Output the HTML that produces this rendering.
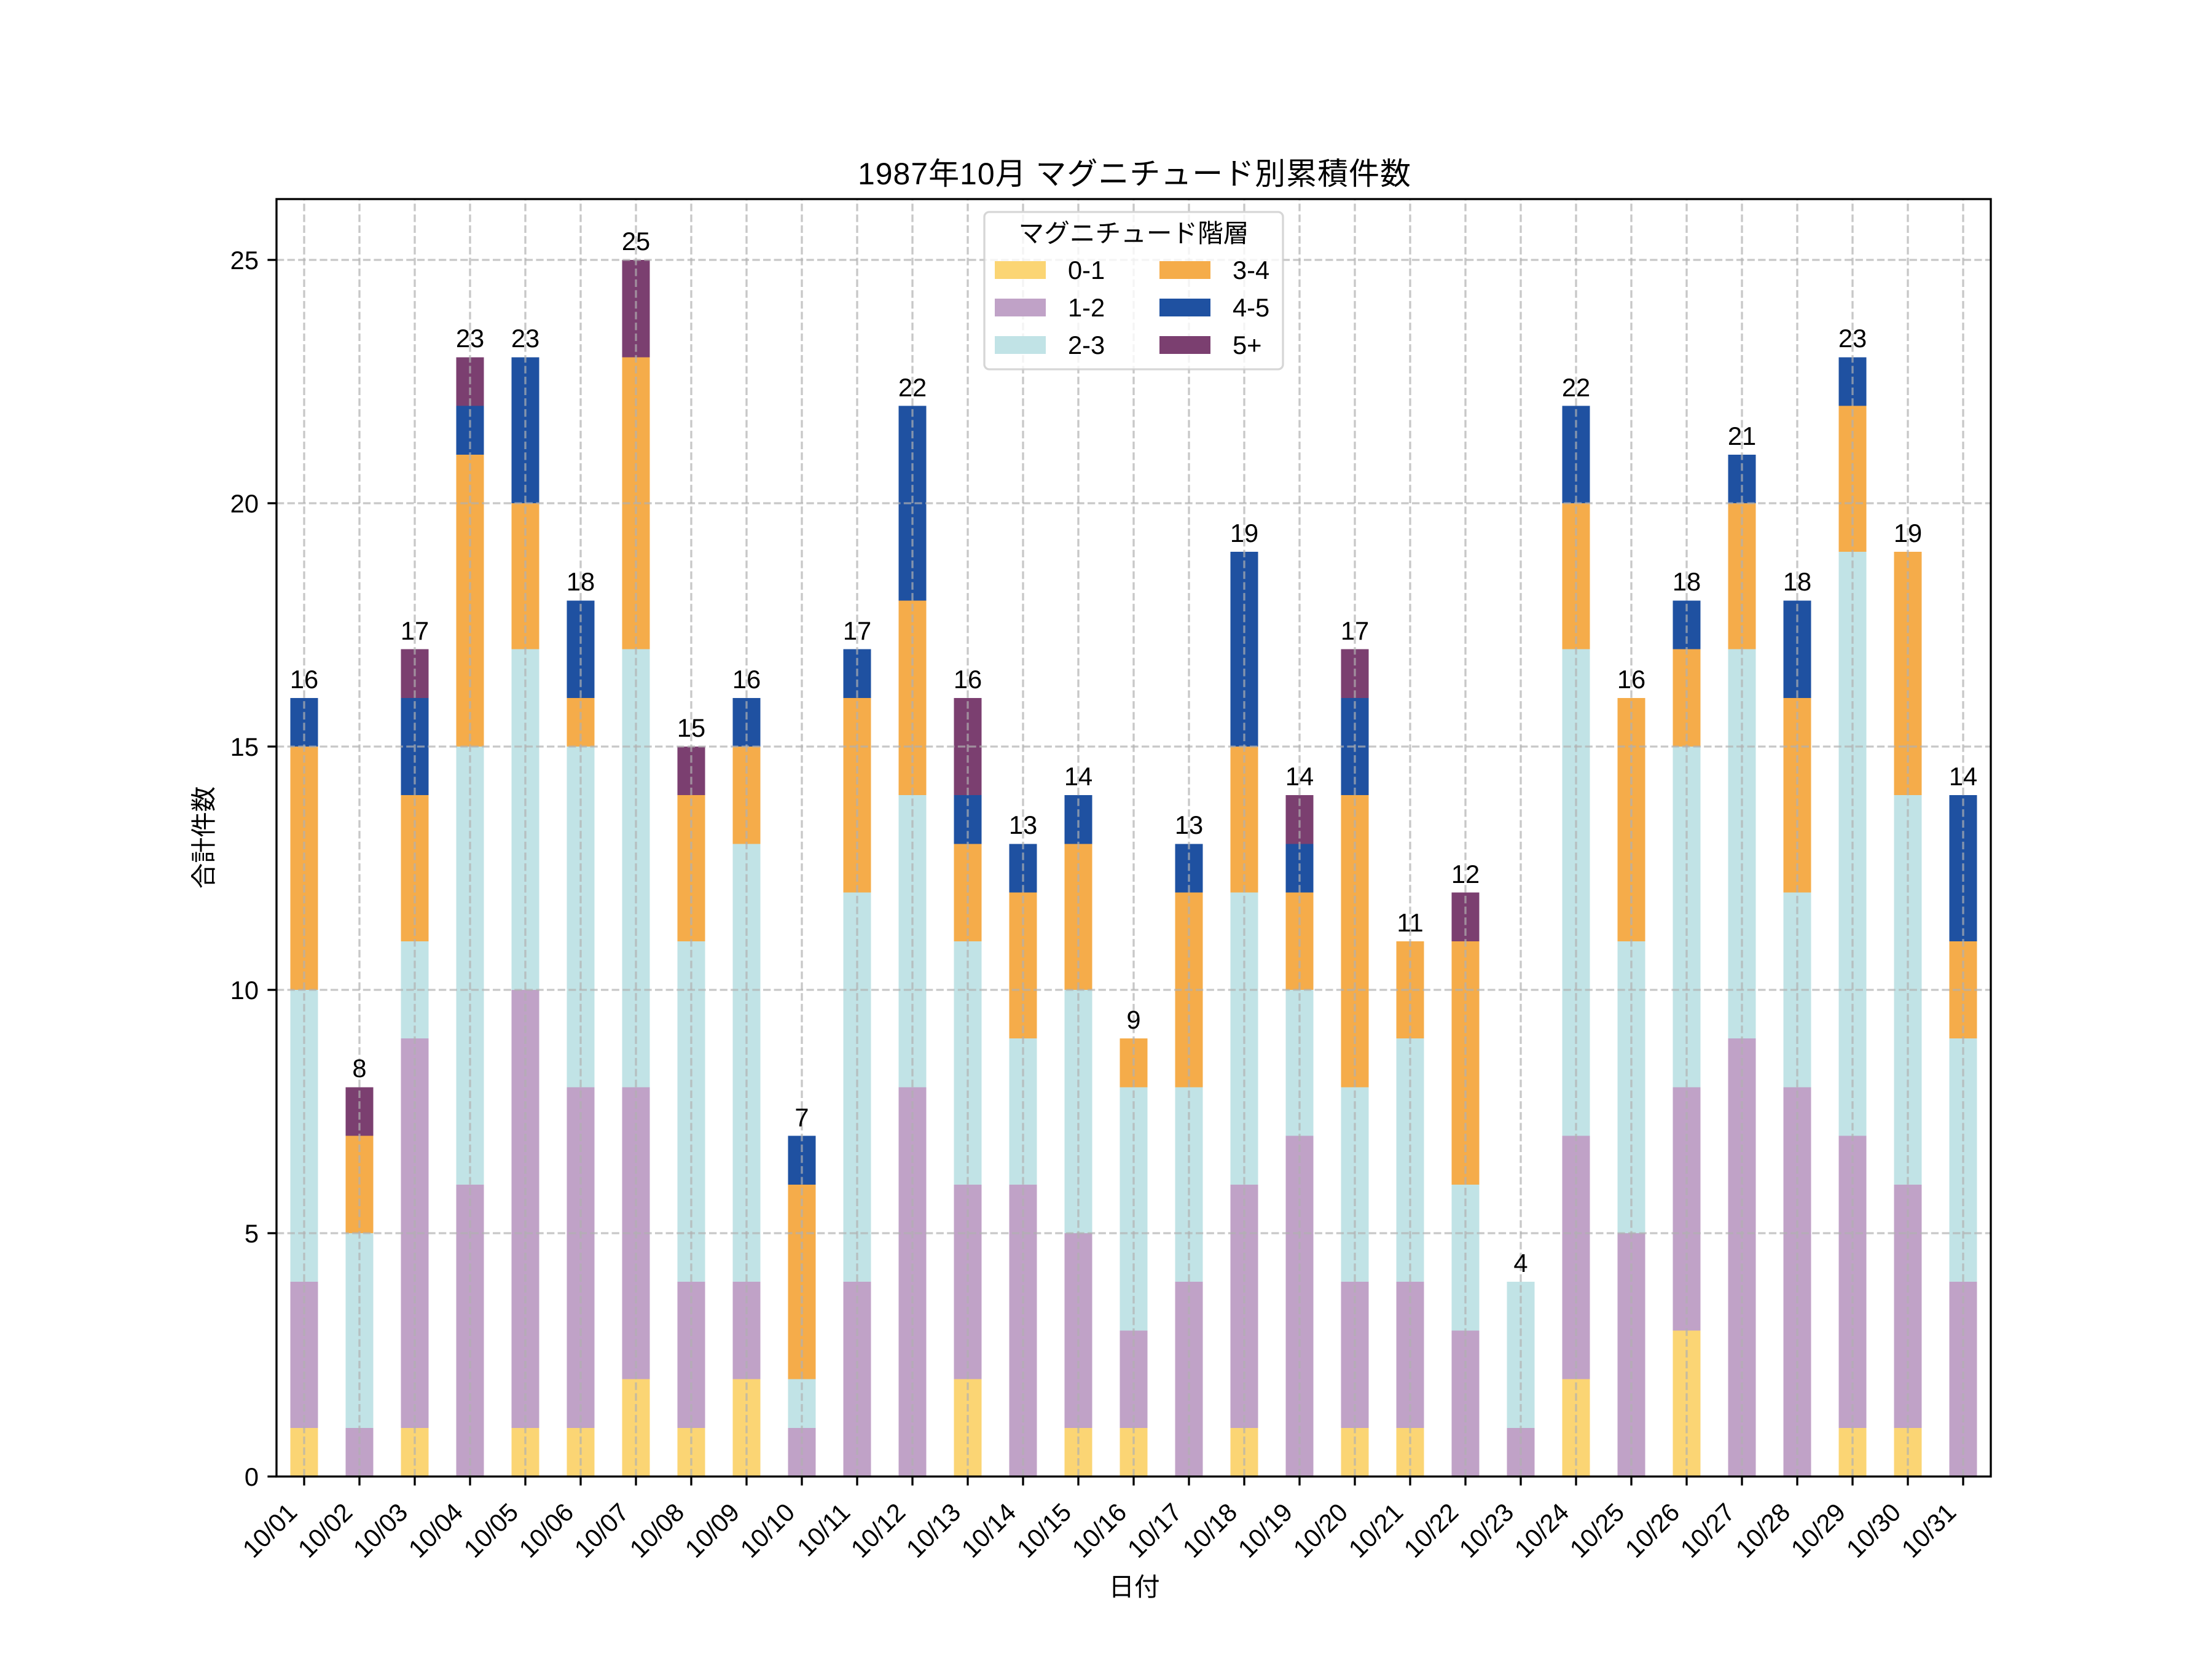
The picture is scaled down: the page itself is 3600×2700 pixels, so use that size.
<!DOCTYPE html>
<html><head><meta charset="utf-8"><style>
html,body{margin:0;padding:0;background:#fff;}
svg{display:block;}
text{font-family:"Liberation Sans","Noto Sans CJK JP",sans-serif;fill:#000;}
</style></head><body>
<svg width="3600" height="2700" viewBox="0 0 3600 2700" xmlns="http://www.w3.org/2000/svg">
<rect x="0" y="0" width="3600" height="2700" fill="#fff"/>
<g transform="translate(450,2403) scale(90,-79.2)" shape-rendering="crispEdges">
<g fill="#fbd574">
<rect x="0.25" y="0" width="0.5" height="1"/><rect x="2.25" y="0" width="0.5" height="1"/><rect x="4.25" y="0" width="0.5" height="1"/><rect x="5.25" y="0" width="0.5" height="1"/><rect x="6.25" y="0" width="0.5" height="2"/><rect x="7.25" y="0" width="0.5" height="1"/><rect x="8.25" y="0" width="0.5" height="2"/><rect x="12.25" y="0" width="0.5" height="2"/><rect x="14.25" y="0" width="0.5" height="1"/><rect x="15.25" y="0" width="0.5" height="1"/><rect x="17.25" y="0" width="0.5" height="1"/><rect x="19.25" y="0" width="0.5" height="1"/><rect x="20.25" y="0" width="0.5" height="1"/><rect x="23.25" y="0" width="0.5" height="2"/><rect x="25.25" y="0" width="0.5" height="3"/><rect x="28.25" y="0" width="0.5" height="1"/><rect x="29.25" y="0" width="0.5" height="1"/>
</g>
<g fill="#c0a2c7">
<rect x="0.25" y="1" width="0.5" height="3"/><rect x="1.25" y="0" width="0.5" height="1"/><rect x="2.25" y="1" width="0.5" height="8"/><rect x="3.25" y="0" width="0.5" height="6"/><rect x="4.25" y="1" width="0.5" height="9"/><rect x="5.25" y="1" width="0.5" height="7"/><rect x="6.25" y="2" width="0.5" height="6"/><rect x="7.25" y="1" width="0.5" height="3"/><rect x="8.25" y="2" width="0.5" height="2"/><rect x="9.25" y="0" width="0.5" height="1"/><rect x="10.25" y="0" width="0.5" height="4"/><rect x="11.25" y="0" width="0.5" height="8"/><rect x="12.25" y="2" width="0.5" height="4"/><rect x="13.25" y="0" width="0.5" height="6"/><rect x="14.25" y="1" width="0.5" height="4"/><rect x="15.25" y="1" width="0.5" height="2"/><rect x="16.25" y="0" width="0.5" height="4"/><rect x="17.25" y="1" width="0.5" height="5"/><rect x="18.25" y="0" width="0.5" height="7"/><rect x="19.25" y="1" width="0.5" height="3"/><rect x="20.25" y="1" width="0.5" height="3"/><rect x="21.25" y="0" width="0.5" height="3"/><rect x="22.25" y="0" width="0.5" height="1"/><rect x="23.25" y="2" width="0.5" height="5"/><rect x="24.25" y="0" width="0.5" height="5"/><rect x="25.25" y="3" width="0.5" height="5"/><rect x="26.25" y="0" width="0.5" height="9"/><rect x="27.25" y="0" width="0.5" height="8"/><rect x="28.25" y="1" width="0.5" height="6"/><rect x="29.25" y="1" width="0.5" height="5"/><rect x="30.25" y="0" width="0.5" height="4"/>
</g>
<g fill="#c1e3e6">
<rect x="0.25" y="4" width="0.5" height="6"/><rect x="1.25" y="1" width="0.5" height="4"/><rect x="2.25" y="9" width="0.5" height="2"/><rect x="3.25" y="6" width="0.5" height="9"/><rect x="4.25" y="10" width="0.5" height="7"/><rect x="5.25" y="8" width="0.5" height="7"/><rect x="6.25" y="8" width="0.5" height="9"/><rect x="7.25" y="4" width="0.5" height="7"/><rect x="8.25" y="4" width="0.5" height="9"/><rect x="9.25" y="1" width="0.5" height="1"/><rect x="10.25" y="4" width="0.5" height="8"/><rect x="11.25" y="8" width="0.5" height="6"/><rect x="12.25" y="6" width="0.5" height="5"/><rect x="13.25" y="6" width="0.5" height="3"/><rect x="14.25" y="5" width="0.5" height="5"/><rect x="15.25" y="3" width="0.5" height="5"/><rect x="16.25" y="4" width="0.5" height="4"/><rect x="17.25" y="6" width="0.5" height="6"/><rect x="18.25" y="7" width="0.5" height="3"/><rect x="19.25" y="4" width="0.5" height="4"/><rect x="20.25" y="4" width="0.5" height="5"/><rect x="21.25" y="3" width="0.5" height="3"/><rect x="22.25" y="1" width="0.5" height="3"/><rect x="23.25" y="7" width="0.5" height="10"/><rect x="24.25" y="5" width="0.5" height="6"/><rect x="25.25" y="8" width="0.5" height="7"/><rect x="26.25" y="9" width="0.5" height="8"/><rect x="27.25" y="8" width="0.5" height="4"/><rect x="28.25" y="7" width="0.5" height="12"/><rect x="29.25" y="6" width="0.5" height="8"/><rect x="30.25" y="4" width="0.5" height="5"/>
</g>
<g fill="#f5ac4a">
<rect x="0.25" y="10" width="0.5" height="5"/><rect x="1.25" y="5" width="0.5" height="2"/><rect x="2.25" y="11" width="0.5" height="3"/><rect x="3.25" y="15" width="0.5" height="6"/><rect x="4.25" y="17" width="0.5" height="3"/><rect x="5.25" y="15" width="0.5" height="1"/><rect x="6.25" y="17" width="0.5" height="6"/><rect x="7.25" y="11" width="0.5" height="3"/><rect x="8.25" y="13" width="0.5" height="2"/><rect x="9.25" y="2" width="0.5" height="4"/><rect x="10.25" y="12" width="0.5" height="4"/><rect x="11.25" y="14" width="0.5" height="4"/><rect x="12.25" y="11" width="0.5" height="2"/><rect x="13.25" y="9" width="0.5" height="3"/><rect x="14.25" y="10" width="0.5" height="3"/><rect x="15.25" y="8" width="0.5" height="1"/><rect x="16.25" y="8" width="0.5" height="4"/><rect x="17.25" y="12" width="0.5" height="3"/><rect x="18.25" y="10" width="0.5" height="2"/><rect x="19.25" y="8" width="0.5" height="6"/><rect x="20.25" y="9" width="0.5" height="2"/><rect x="21.25" y="6" width="0.5" height="5"/><rect x="23.25" y="17" width="0.5" height="3"/><rect x="24.25" y="11" width="0.5" height="5"/><rect x="25.25" y="15" width="0.5" height="2"/><rect x="26.25" y="17" width="0.5" height="3"/><rect x="27.25" y="12" width="0.5" height="4"/><rect x="28.25" y="19" width="0.5" height="3"/><rect x="29.25" y="14" width="0.5" height="5"/><rect x="30.25" y="9" width="0.5" height="2"/>
</g>
<g fill="#1f51a1">
<rect x="0.25" y="15" width="0.5" height="1"/><rect x="2.25" y="14" width="0.5" height="2"/><rect x="3.25" y="21" width="0.5" height="1"/><rect x="4.25" y="20" width="0.5" height="3"/><rect x="5.25" y="16" width="0.5" height="2"/><rect x="8.25" y="15" width="0.5" height="1"/><rect x="9.25" y="6" width="0.5" height="1"/><rect x="10.25" y="16" width="0.5" height="1"/><rect x="11.25" y="18" width="0.5" height="4"/><rect x="12.25" y="13" width="0.5" height="1"/><rect x="13.25" y="12" width="0.5" height="1"/><rect x="14.25" y="13" width="0.5" height="1"/><rect x="16.25" y="12" width="0.5" height="1"/><rect x="17.25" y="15" width="0.5" height="4"/><rect x="18.25" y="12" width="0.5" height="1"/><rect x="19.25" y="14" width="0.5" height="2"/><rect x="23.25" y="20" width="0.5" height="2"/><rect x="25.25" y="17" width="0.5" height="1"/><rect x="26.25" y="20" width="0.5" height="1"/><rect x="27.25" y="16" width="0.5" height="2"/><rect x="28.25" y="22" width="0.5" height="1"/><rect x="30.25" y="11" width="0.5" height="3"/>
</g>
<g fill="#7b3f70">
<rect x="1.25" y="7" width="0.5" height="1"/><rect x="2.25" y="16" width="0.5" height="1"/><rect x="3.25" y="22" width="0.5" height="1"/><rect x="6.25" y="23" width="0.5" height="2"/><rect x="7.25" y="14" width="0.5" height="1"/><rect x="12.25" y="14" width="0.5" height="2"/><rect x="18.25" y="13" width="0.5" height="1"/><rect x="19.25" y="16" width="0.5" height="1"/><rect x="21.25" y="11" width="0.5" height="1"/>
</g>
</g>
<!-- grid -->
<g stroke="#b0b0b0" stroke-opacity="0.7" stroke-width="3.33" stroke-dasharray="12.3,5.3" fill="none">
<line x1="495" y1="2403" x2="495" y2="324"/><line x1="585" y1="2403" x2="585" y2="324"/><line x1="675" y1="2403" x2="675" y2="324"/><line x1="765" y1="2403" x2="765" y2="324"/><line x1="855" y1="2403" x2="855" y2="324"/><line x1="945" y1="2403" x2="945" y2="324"/><line x1="1035" y1="2403" x2="1035" y2="324"/><line x1="1125" y1="2403" x2="1125" y2="324"/><line x1="1215" y1="2403" x2="1215" y2="324"/><line x1="1305" y1="2403" x2="1305" y2="324"/><line x1="1395" y1="2403" x2="1395" y2="324"/><line x1="1485" y1="2403" x2="1485" y2="324"/><line x1="1575" y1="2403" x2="1575" y2="324"/><line x1="1665" y1="2403" x2="1665" y2="324"/><line x1="1755" y1="2403" x2="1755" y2="324"/><line x1="1845" y1="2403" x2="1845" y2="324"/><line x1="1935" y1="2403" x2="1935" y2="324"/><line x1="2025" y1="2403" x2="2025" y2="324"/><line x1="2115" y1="2403" x2="2115" y2="324"/><line x1="2205" y1="2403" x2="2205" y2="324"/><line x1="2295" y1="2403" x2="2295" y2="324"/><line x1="2385" y1="2403" x2="2385" y2="324"/><line x1="2475" y1="2403" x2="2475" y2="324"/><line x1="2565" y1="2403" x2="2565" y2="324"/><line x1="2655" y1="2403" x2="2655" y2="324"/><line x1="2745" y1="2403" x2="2745" y2="324"/><line x1="2835" y1="2403" x2="2835" y2="324"/><line x1="2925" y1="2403" x2="2925" y2="324"/><line x1="3015" y1="2403" x2="3015" y2="324"/><line x1="3105" y1="2403" x2="3105" y2="324"/><line x1="3195" y1="2403" x2="3195" y2="324"/>
<line x1="450" y1="2007" x2="3240" y2="2007"/><line x1="450" y1="1611" x2="3240" y2="1611"/><line x1="450" y1="1215" x2="3240" y2="1215"/><line x1="450" y1="819" x2="3240" y2="819"/><line x1="450" y1="423" x2="3240" y2="423"/>
</g>
<!-- value labels -->
<g font-size="41.67" text-anchor="middle">
<text x="495" y="1120">16</text><text x="585" y="1753">8</text><text x="675" y="1041">17</text><text x="765" y="565">23</text><text x="855" y="565">23</text><text x="945" y="961">18</text><text x="1035" y="407">25</text><text x="1125" y="1199">15</text><text x="1215" y="1120">16</text><text x="1305" y="1833">7</text><text x="1395" y="1041">17</text><text x="1485" y="645">22</text><text x="1575" y="1120">16</text><text x="1665" y="1357">13</text><text x="1755" y="1278">14</text><text x="1845" y="1674">9</text><text x="1935" y="1357">13</text><text x="2025" y="882">19</text><text x="2115" y="1278">14</text><text x="2205" y="1041">17</text><text x="2295" y="1516">11</text><text x="2385" y="1437">12</text><text x="2475" y="2070">4</text><text x="2565" y="645">22</text><text x="2655" y="1120">16</text><text x="2745" y="961">18</text><text x="2835" y="724">21</text><text x="2925" y="961">18</text><text x="3015" y="565">23</text><text x="3105" y="882">19</text><text x="3195" y="1278">14</text>
</g>
<!-- legend -->
<rect x="1602" y="345" width="486" height="256" rx="8" ry="8" fill="#fff" fill-opacity="0.8" stroke="#cccccc" stroke-opacity="0.8" stroke-width="3.33"/>
<text x="1845" y="394" font-size="41.67" text-anchor="middle">マグニチュード階層</text>
<rect x="1619" y="425" width="83" height="29" fill="#fbd574"/>
<rect x="1619" y="486" width="83" height="29" fill="#c0a2c7"/>
<rect x="1619" y="547" width="83" height="29" fill="#c1e3e6"/>
<rect x="1887" y="425" width="83" height="29" fill="#f5ac4a"/>
<rect x="1887" y="486" width="83" height="29" fill="#1f51a1"/>
<rect x="1887" y="547" width="83" height="29" fill="#7b3f70"/>
<g font-size="41.67">
<text x="1738" y="454">0-1</text><text x="1738" y="515">1-2</text><text x="1738" y="576">2-3</text>
<text x="2006" y="454">3-4</text><text x="2006" y="515">4-5</text><text x="2006" y="576">5+</text>
</g>
<!-- spines -->
<rect x="450" y="324" width="2790" height="2079" fill="none" stroke="#000" stroke-width="3.33"/>
<!-- ticks -->
<g stroke="#000" stroke-width="3.33">
<line x1="435.4" y1="2403" x2="450" y2="2403"/><line x1="435.4" y1="2007" x2="450" y2="2007"/><line x1="435.4" y1="1611" x2="450" y2="1611"/><line x1="435.4" y1="1215" x2="450" y2="1215"/><line x1="435.4" y1="819" x2="450" y2="819"/><line x1="435.4" y1="423" x2="450" y2="423"/>
<line x1="495" y1="2403" x2="495" y2="2417.6"/><line x1="585" y1="2403" x2="585" y2="2417.6"/><line x1="675" y1="2403" x2="675" y2="2417.6"/><line x1="765" y1="2403" x2="765" y2="2417.6"/><line x1="855" y1="2403" x2="855" y2="2417.6"/><line x1="945" y1="2403" x2="945" y2="2417.6"/><line x1="1035" y1="2403" x2="1035" y2="2417.6"/><line x1="1125" y1="2403" x2="1125" y2="2417.6"/><line x1="1215" y1="2403" x2="1215" y2="2417.6"/><line x1="1305" y1="2403" x2="1305" y2="2417.6"/><line x1="1395" y1="2403" x2="1395" y2="2417.6"/><line x1="1485" y1="2403" x2="1485" y2="2417.6"/><line x1="1575" y1="2403" x2="1575" y2="2417.6"/><line x1="1665" y1="2403" x2="1665" y2="2417.6"/><line x1="1755" y1="2403" x2="1755" y2="2417.6"/><line x1="1845" y1="2403" x2="1845" y2="2417.6"/><line x1="1935" y1="2403" x2="1935" y2="2417.6"/><line x1="2025" y1="2403" x2="2025" y2="2417.6"/><line x1="2115" y1="2403" x2="2115" y2="2417.6"/><line x1="2205" y1="2403" x2="2205" y2="2417.6"/><line x1="2295" y1="2403" x2="2295" y2="2417.6"/><line x1="2385" y1="2403" x2="2385" y2="2417.6"/><line x1="2475" y1="2403" x2="2475" y2="2417.6"/><line x1="2565" y1="2403" x2="2565" y2="2417.6"/><line x1="2655" y1="2403" x2="2655" y2="2417.6"/><line x1="2745" y1="2403" x2="2745" y2="2417.6"/><line x1="2835" y1="2403" x2="2835" y2="2417.6"/><line x1="2925" y1="2403" x2="2925" y2="2417.6"/><line x1="3015" y1="2403" x2="3015" y2="2417.6"/><line x1="3105" y1="2403" x2="3105" y2="2417.6"/><line x1="3195" y1="2403" x2="3195" y2="2417.6"/>
</g>
<!-- y tick labels -->
<g font-size="41.67" text-anchor="end">
<text x="421" y="2418">0</text><text x="421" y="2022">5</text><text x="421" y="1626">10</text><text x="421" y="1230">15</text><text x="421" y="834">20</text><text x="421" y="438">25</text>
</g>
<!-- x tick labels -->
<g font-size="41.67" text-anchor="end">
<text transform="translate(486,2464) rotate(-45)">10/01</text>
<text transform="translate(576,2464) rotate(-45)">10/02</text>
<text transform="translate(666,2464) rotate(-45)">10/03</text>
<text transform="translate(756,2464) rotate(-45)">10/04</text>
<text transform="translate(846,2464) rotate(-45)">10/05</text>
<text transform="translate(936,2464) rotate(-45)">10/06</text>
<text transform="translate(1026,2464) rotate(-45)">10/07</text>
<text transform="translate(1116,2464) rotate(-45)">10/08</text>
<text transform="translate(1206,2464) rotate(-45)">10/09</text>
<text transform="translate(1296,2464) rotate(-45)">10/10</text>
<text transform="translate(1386,2464) rotate(-45)">10/11</text>
<text transform="translate(1476,2464) rotate(-45)">10/12</text>
<text transform="translate(1566,2464) rotate(-45)">10/13</text>
<text transform="translate(1656,2464) rotate(-45)">10/14</text>
<text transform="translate(1746,2464) rotate(-45)">10/15</text>
<text transform="translate(1836,2464) rotate(-45)">10/16</text>
<text transform="translate(1926,2464) rotate(-45)">10/17</text>
<text transform="translate(2016,2464) rotate(-45)">10/18</text>
<text transform="translate(2106,2464) rotate(-45)">10/19</text>
<text transform="translate(2196,2464) rotate(-45)">10/20</text>
<text transform="translate(2286,2464) rotate(-45)">10/21</text>
<text transform="translate(2376,2464) rotate(-45)">10/22</text>
<text transform="translate(2466,2464) rotate(-45)">10/23</text>
<text transform="translate(2556,2464) rotate(-45)">10/24</text>
<text transform="translate(2646,2464) rotate(-45)">10/25</text>
<text transform="translate(2736,2464) rotate(-45)">10/26</text>
<text transform="translate(2826,2464) rotate(-45)">10/27</text>
<text transform="translate(2916,2464) rotate(-45)">10/28</text>
<text transform="translate(3006,2464) rotate(-45)">10/29</text>
<text transform="translate(3096,2464) rotate(-45)">10/30</text>
<text transform="translate(3186,2464) rotate(-45)">10/31</text>
</g>
<!-- title and axis labels -->
<text x="1846" y="300" font-size="50" text-anchor="middle" textLength="900" lengthAdjust="spacing">1987年10月 マグニチュード別累積件数</text>
<text x="1846" y="2597" font-size="41.67" text-anchor="middle">日付</text>
<text transform="translate(346,1363) rotate(-90)" font-size="41.67" text-anchor="middle">合計件数</text>
</svg>
</body></html>
